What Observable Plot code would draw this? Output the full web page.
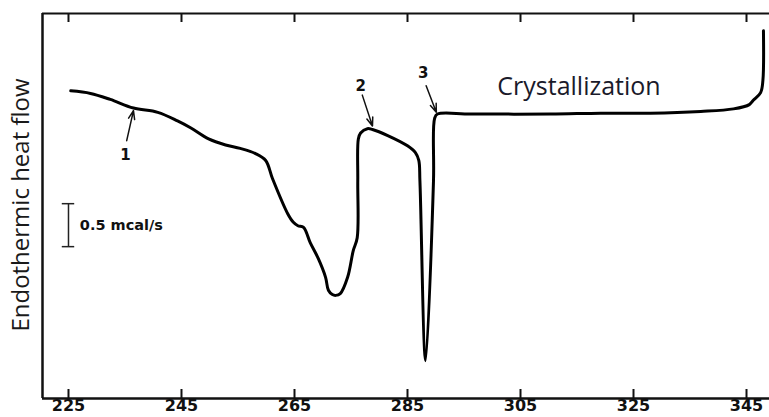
<!DOCTYPE html>
<html>
<head>
<meta charset="utf-8">
<script src="https://cdn.jsdelivr.net/npm/d3@7"></script>
<script src="https://cdn.jsdelivr.net/npm/@observablehq/plot@0.6"></script>
<style>
  html, body { margin: 0; padding: 0; background: #fff; }
</style>
</head>
<body>
<div id="chart"></div>
<script>
// Temperature (°C) and endothermic heat flow (mcal/s above baseline)
const temperature = [225.4, 228.9, 232.4, 236.5, 240.8, 244.3, 246.6, 249.8, 252.8, 255.4, 258.1, 259.9, 261.1, 263.8, 264.8, 265.6, 266.6, 267.8, 269.2, 270.5, 271.0, 271.7, 272.3, 273.1, 274.4, 275.4, 276.1, 276.2, 276.3, 276.7, 277.9, 278.8, 281.5, 285.0, 286.4, 287.0, 287.2, 288.2, 289.6, 289.8, 290.3, 296.2, 310.3, 319.2, 328.0, 336.9, 342.7, 345.5, 346.2, 347.5, 347.9, 348.0];
const heatFlow = [3.58, 3.55, 3.48, 3.38, 3.33, 3.23, 3.15, 3.02, 2.95, 2.91, 2.85, 2.77, 2.56, 2.15, 2.05, 2.01, 1.99, 1.81, 1.63, 1.41, 1.26, 1.21, 1.20, 1.22, 1.41, 1.72, 1.87, 2.53, 3.02, 3.09, 3.14, 3.13, 3.06, 2.94, 2.86, 2.77, 2.53, 0.44, 2.53, 3.26, 3.31, 3.31, 3.31, 3.32, 3.32, 3.34, 3.37, 3.42, 3.47, 3.56, 3.70, 4.28];

const xTicks = [225, 245, 265, 285, 305, 325, 345];
const xDomain = [220.4, 349.07];
const yDomain = [0, 4.48];

// Numbered transition markers: label position and arrow (tail -> tip)
const markerLabels = ["1", "2", "3"];
const markerLabelT = [235.1, 276.7, 287.8];
const markerLabelH = [2.83, 3.64, 3.78];
const arrowT1 = [235.3, 277.0, 288.3];
const arrowH1 = [3.00, 3.53, 3.64];
const arrowT2 = [236.5, 278.8, 290.1];
const arrowH2 = [3.35, 3.17, 3.33];

// Scale bar
const scaleBarT = 225;
const scaleBarH = [1.767, 2.267];
const scaleBarLabel = "0.5 mcal/s";

const yLabel = "Endothermic heat flow";
const phaseLabel = "Crystallization";
const phaseT = 300.9, phaseH = 3.63;

const curve = temperature.map((t, i) => ({t, h: heatFlow[i]}));
const markers = markerLabels.map((m, i) => ({
  m, lt: markerLabelT[i], lh: markerLabelH[i],
  t1: arrowT1[i], h1: arrowH1[i], t2: arrowT2[i], h2: arrowH2[i]
}));

const tickFont = "DejaVu Sans, sans-serif";
const H = 417, MT = 13, MB = 19;
const frameH = H - MT - MB;
const tickLen = 9 * (yDomain[1] - yDomain[0]) / frameH;
const topTickY = [yDomain[1] - tickLen, yDomain[1]];

const chart = Plot.plot({
  width: 769,
  height: H,
  marginTop: MT,
  marginBottom: MB,
  marginLeft: 42,
  marginRight: 0,
  x: {domain: xDomain, axis: null},
  y: {domain: yDomain, axis: null},
  style: {background: "#fff", overflow: "visible"},
  marks: [
    // frame: left, bottom, top
    Plot.ruleX([xDomain[0]], {stroke: "#111", strokeWidth: 2.5}),
    Plot.ruleY([yDomain[0]], {stroke: "#111", strokeWidth: 2.5}),
    Plot.ruleY([yDomain[1]], {stroke: "#111", strokeWidth: 2}),
    // inward ticks bottom & top
    Plot.ruleX(xTicks, {x: d => d, y1: yDomain[0], y2: yDomain[0] + tickLen, stroke: "#111", strokeWidth: 2}),
    Plot.ruleX(xTicks, {x: d => d, y1: topTickY[0], y2: topTickY[1], stroke: "#111", strokeWidth: 2}),
    // tick labels
    Plot.text(xTicks, {x: d => d, frameAnchor: "bottom", dy: 12, text: d => String(d),
      fontFamily: tickFont, fontWeight: "bold", fontSize: 16, fill: "#111"}),
    // y label
    Plot.text([yLabel], {frameAnchor: "left", textAnchor: "middle", dx: -21, dy: -1, rotate: -90, text: d => d,
      fontFamily: "Open Sans", fontSize: 24, fill: "#1a1a1a"}),
    // scale bar
    Plot.ruleX([scaleBarT], {x: d => d, y1: scaleBarH[0], y2: scaleBarH[1], stroke: "#222", strokeWidth: 1.5}),
    Plot.ruleY(scaleBarH, {y: d => d, x1: scaleBarT - 1.1, x2: scaleBarT + 1.1, stroke: "#222", strokeWidth: 1.5}),
    Plot.text([scaleBarLabel], {x: scaleBarT + 2.0, y: (scaleBarH[0] + scaleBarH[1]) / 2, text: d => d,
      textAnchor: "start", fontFamily: tickFont, fontWeight: "bold", fontSize: 14.5, fill: "#111"}),
    // thermogram
    Plot.line(curve, {x: "t", y: "h", stroke: "#000", strokeWidth: 3, strokeLinejoin: "round", strokeLinecap: "round", curve: "catmull-rom"}),
    // markers
    Plot.arrow(markers, {x1: "t1", y1: "h1", x2: "t2", y2: "h2", stroke: "#111", strokeWidth: 1.5, headLength: 9, headAngle: 40}),
    Plot.text(markers, {x: "lt", y: "lh", text: "m", fontFamily: tickFont, fontWeight: "bold", fontSize: 15, fill: "#111"}),
    // phase label
    Plot.text([phaseLabel], {x: phaseT, y: phaseH, text: d => d, textAnchor: "start",
      fontFamily: "Open Sans", fontSize: 25, fill: "#1a1a2a"})
  ]
});

document.getElementById("chart").appendChild(chart);
</script>
</body>
</html>
